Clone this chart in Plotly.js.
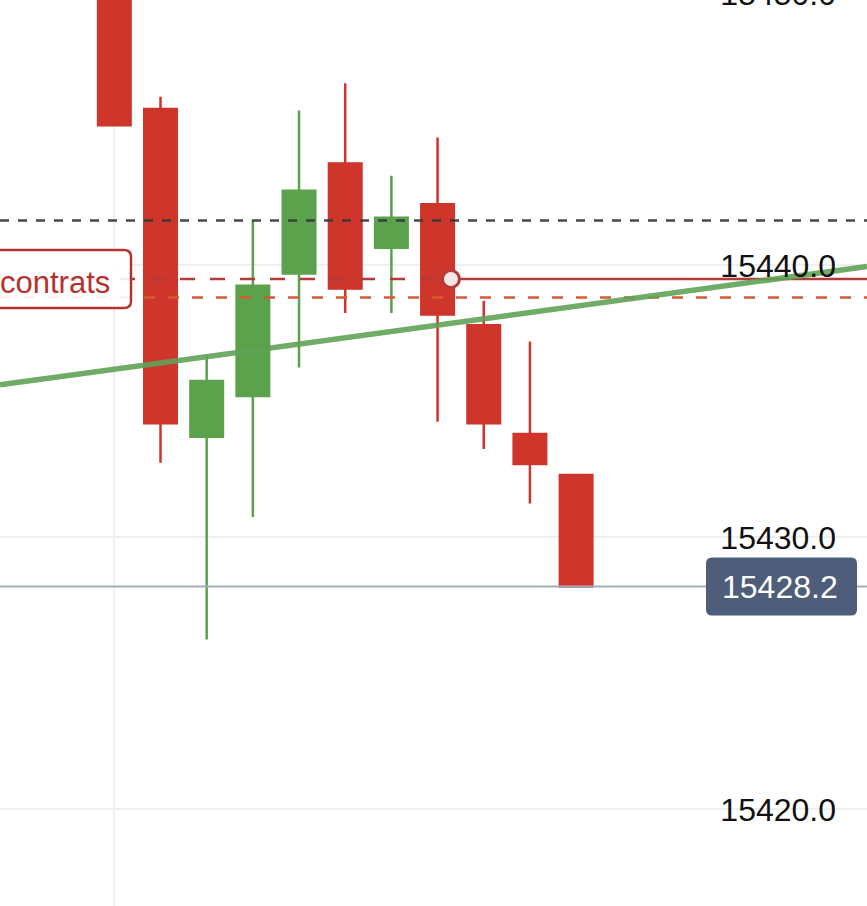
<!DOCTYPE html>
<html>
<head>
<meta charset="utf-8">
<script src="https://cdn.plot.ly/plotly-3.0.1.min.js"></script>
<style>
html, body { margin: 0; padding: 0; overflow: hidden; background: #ffffff; width: 867px; height: 906px; }
#chart { position: absolute; left: 0; top: -40px; width: 867px; height: 946px; }
</style>
</head>
<body>
<div id="chart"></div>
<script>
// ---- data ----
const candleIndex = [0, 1, 2, 3, 4, 5, 6, 7, 8, 9, 10];
const openP  = [15452.0, 15445.75, 15433.7, 15435.2, 15439.7, 15443.75, 15440.65, 15442.25, 15437.8, 15433.8, 15432.3];
const highP  = [15453.0, 15446.2, 15436.7, 15441.65, 15445.7, 15446.7, 15443.3, 15444.7, 15438.7, 15437.2, 15432.3];
const lowP   = [15445.15, 15432.75, 15426.25, 15430.75, 15436.25, 15438.25, 15438.25, 15434.25, 15433.25, 15431.25, 15428.2];
const closeP = [15445.15, 15434.2, 15435.75, 15439.25, 15442.75, 15439.15, 15441.75, 15438.2, 15434.2, 15432.7, 15428.2];

const levelBlack = 15441.65;   // dark dashed level
const levelOrder = 15439.5;    // red order level ("contrats")
const levelOrange = 15438.82;  // orange dashed level
const lastPrice = 15428.2;     // current price
const orderMarkerX = [7.29];
const orderMarkerY = [15439.5];
const trendX = [-2.476, 16.30];
const trendY = [15435.61, 15439.96];
const orderLabel = 'contrats';

// ---- view ----
const xMin = -2.476, xMax = 16.30;
const yMin = 15416.45, yMax = 15451.23;
const FONT = '"Liberation Sans", Arial, Helvetica, sans-serif';
const RED = '#ce352b', GREEN = '#5ca14c', ORDER = '#b23b38';

function roundRect(x0, x1, y0, y1, r) {
  return 'M' + (x0 + r) + ',' + y1 +
    ' L' + (x1 - r) + ',' + y1 + ' Q' + x1 + ',' + y1 + ' ' + x1 + ',' + (y1 - r) +
    ' L' + x1 + ',' + (y0 + r) + ' Q' + x1 + ',' + y0 + ' ' + (x1 - r) + ',' + y0 +
    ' L' + (x0 + r) + ',' + y0 + ' Q' + x0 + ',' + y0 + ' ' + x0 + ',' + (y0 + r) +
    ' L' + x0 + ',' + (y1 - r) + ' Q' + x0 + ',' + y1 + ' ' + (x0 + r) + ',' + y1 + ' Z';
}

const traces = [
  {
    type: 'candlestick', x: candleIndex, open: openP, high: highP, low: lowP, close: closeP,
    increasing: { line: { color: GREEN, width: 2.5 }, fillcolor: GREEN },
    decreasing: { line: { color: RED, width: 2.5 }, fillcolor: RED },
    whiskerwidth: 0, hoverinfo: 'skip', showlegend: false
  },
  { type: 'scatter', mode: 'lines', x: [xMin, xMax], y: [lastPrice, lastPrice],
    line: { color: '#a3acba', width: 2 }, hoverinfo: 'skip' },
  { type: 'scatter', mode: 'lines', x: [xMin, xMax], y: [levelBlack, levelBlack],
    line: { color: 'rgba(55,55,62,0.92)', width: 2.6, dash: '9px,9px' }, hoverinfo: 'skip' },
  { type: 'scatter', mode: 'lines', x: [xMin, xMax], y: [levelOrange, levelOrange],
    line: { color: '#d65a32', width: 2.6, dash: '11px,13px' }, hoverinfo: 'skip' },
  { type: 'scatter', mode: 'lines', x: [xMin, orderMarkerX[0]], y: [levelOrder, levelOrder],
    line: { color: ORDER, width: 2.6, dash: '15px,15px' }, hoverinfo: 'skip' },
  { type: 'scatter', mode: 'lines', x: [orderMarkerX[0], xMax], y: [levelOrder, levelOrder],
    line: { color: ORDER, width: 2.6 }, hoverinfo: 'skip' },
  { type: 'scatter', mode: 'lines', x: trendX, y: trendY,
    line: { color: 'rgba(96,162,86,0.9)', width: 5.5 }, hoverinfo: 'skip' },
  { type: 'scatter', mode: 'markers', x: orderMarkerX, y: orderMarkerY,
    marker: { size: 17, color: '#f7e6e6', line: { color: ORDER, width: 3 } }, hoverinfo: 'skip' }
];

const layout = {
  width: 867, height: 946,
  margin: { l: 0, r: 0, t: 0, b: 0 },
  paper_bgcolor: '#ffffff', plot_bgcolor: '#ffffff',
  showlegend: false,
  boxgap: 0.296, boxgroupgap: 0,
  font: { family: FONT },
  xaxis: {
    range: [xMin, xMax], tick0: 0, dtick: 15, showticklabels: false, ticks: '',
    showgrid: true, gridcolor: '#efefef', gridwidth: 2, zeroline: false, showline: false,
    rangeslider: { visible: false }, fixedrange: true
  },
  yaxis: {
    range: [yMin, yMax], side: 'right', tick0: 0, dtick: 10, tickformat: '.1f',
    ticklabelposition: 'inside', ticks: '', ticklabelstandoff: 28,
    tickfont: { size: 32, color: '#111111', family: FONT },
    showgrid: true, gridcolor: '#efefef', gridwidth: 2, zeroline: false, showline: false, fixedrange: true
  },
  shapes: [
    { type: 'path', layer: 'above', xref: 'paper', xsizemode: 'pixel', xanchor: 0,
      yref: 'y', ysizemode: 'pixel', yanchor: levelOrder,
      path: roundRect(-30, 131, -29, 29, 7),
      fillcolor: 'rgba(255,255,255,0.9)', line: { color: '#b5332e', width: 2.5 } },
    { type: 'path', layer: 'above', xref: 'paper', xsizemode: 'pixel', xanchor: 0,
      yref: 'y', ysizemode: 'pixel', yanchor: lastPrice,
      path: roundRect(706, 857, -29, 29, 6),
      fillcolor: '#4e5d7a', line: { width: 0 } }
  ],
  annotations: [
    { xref: 'paper', x: 0, xanchor: 'left', xshift: -2, yref: 'y', y: levelOrder, yanchor: 'middle', yshift: -3,
      text: orderLabel, showarrow: false, font: { size: 31, color: '#b5332e', family: FONT } },
    { xref: 'paper', x: 0, xanchor: 'center', xshift: 780, yref: 'y', y: lastPrice, yanchor: 'middle', yshift: -1,
      text: lastPrice.toFixed(1), showarrow: false, font: { size: 32, color: '#ffffff', family: FONT } }
  ]
};

Plotly.newPlot('chart', traces, layout, { staticPlot: true, displayModeBar: false });
</script>
</body>
</html>
